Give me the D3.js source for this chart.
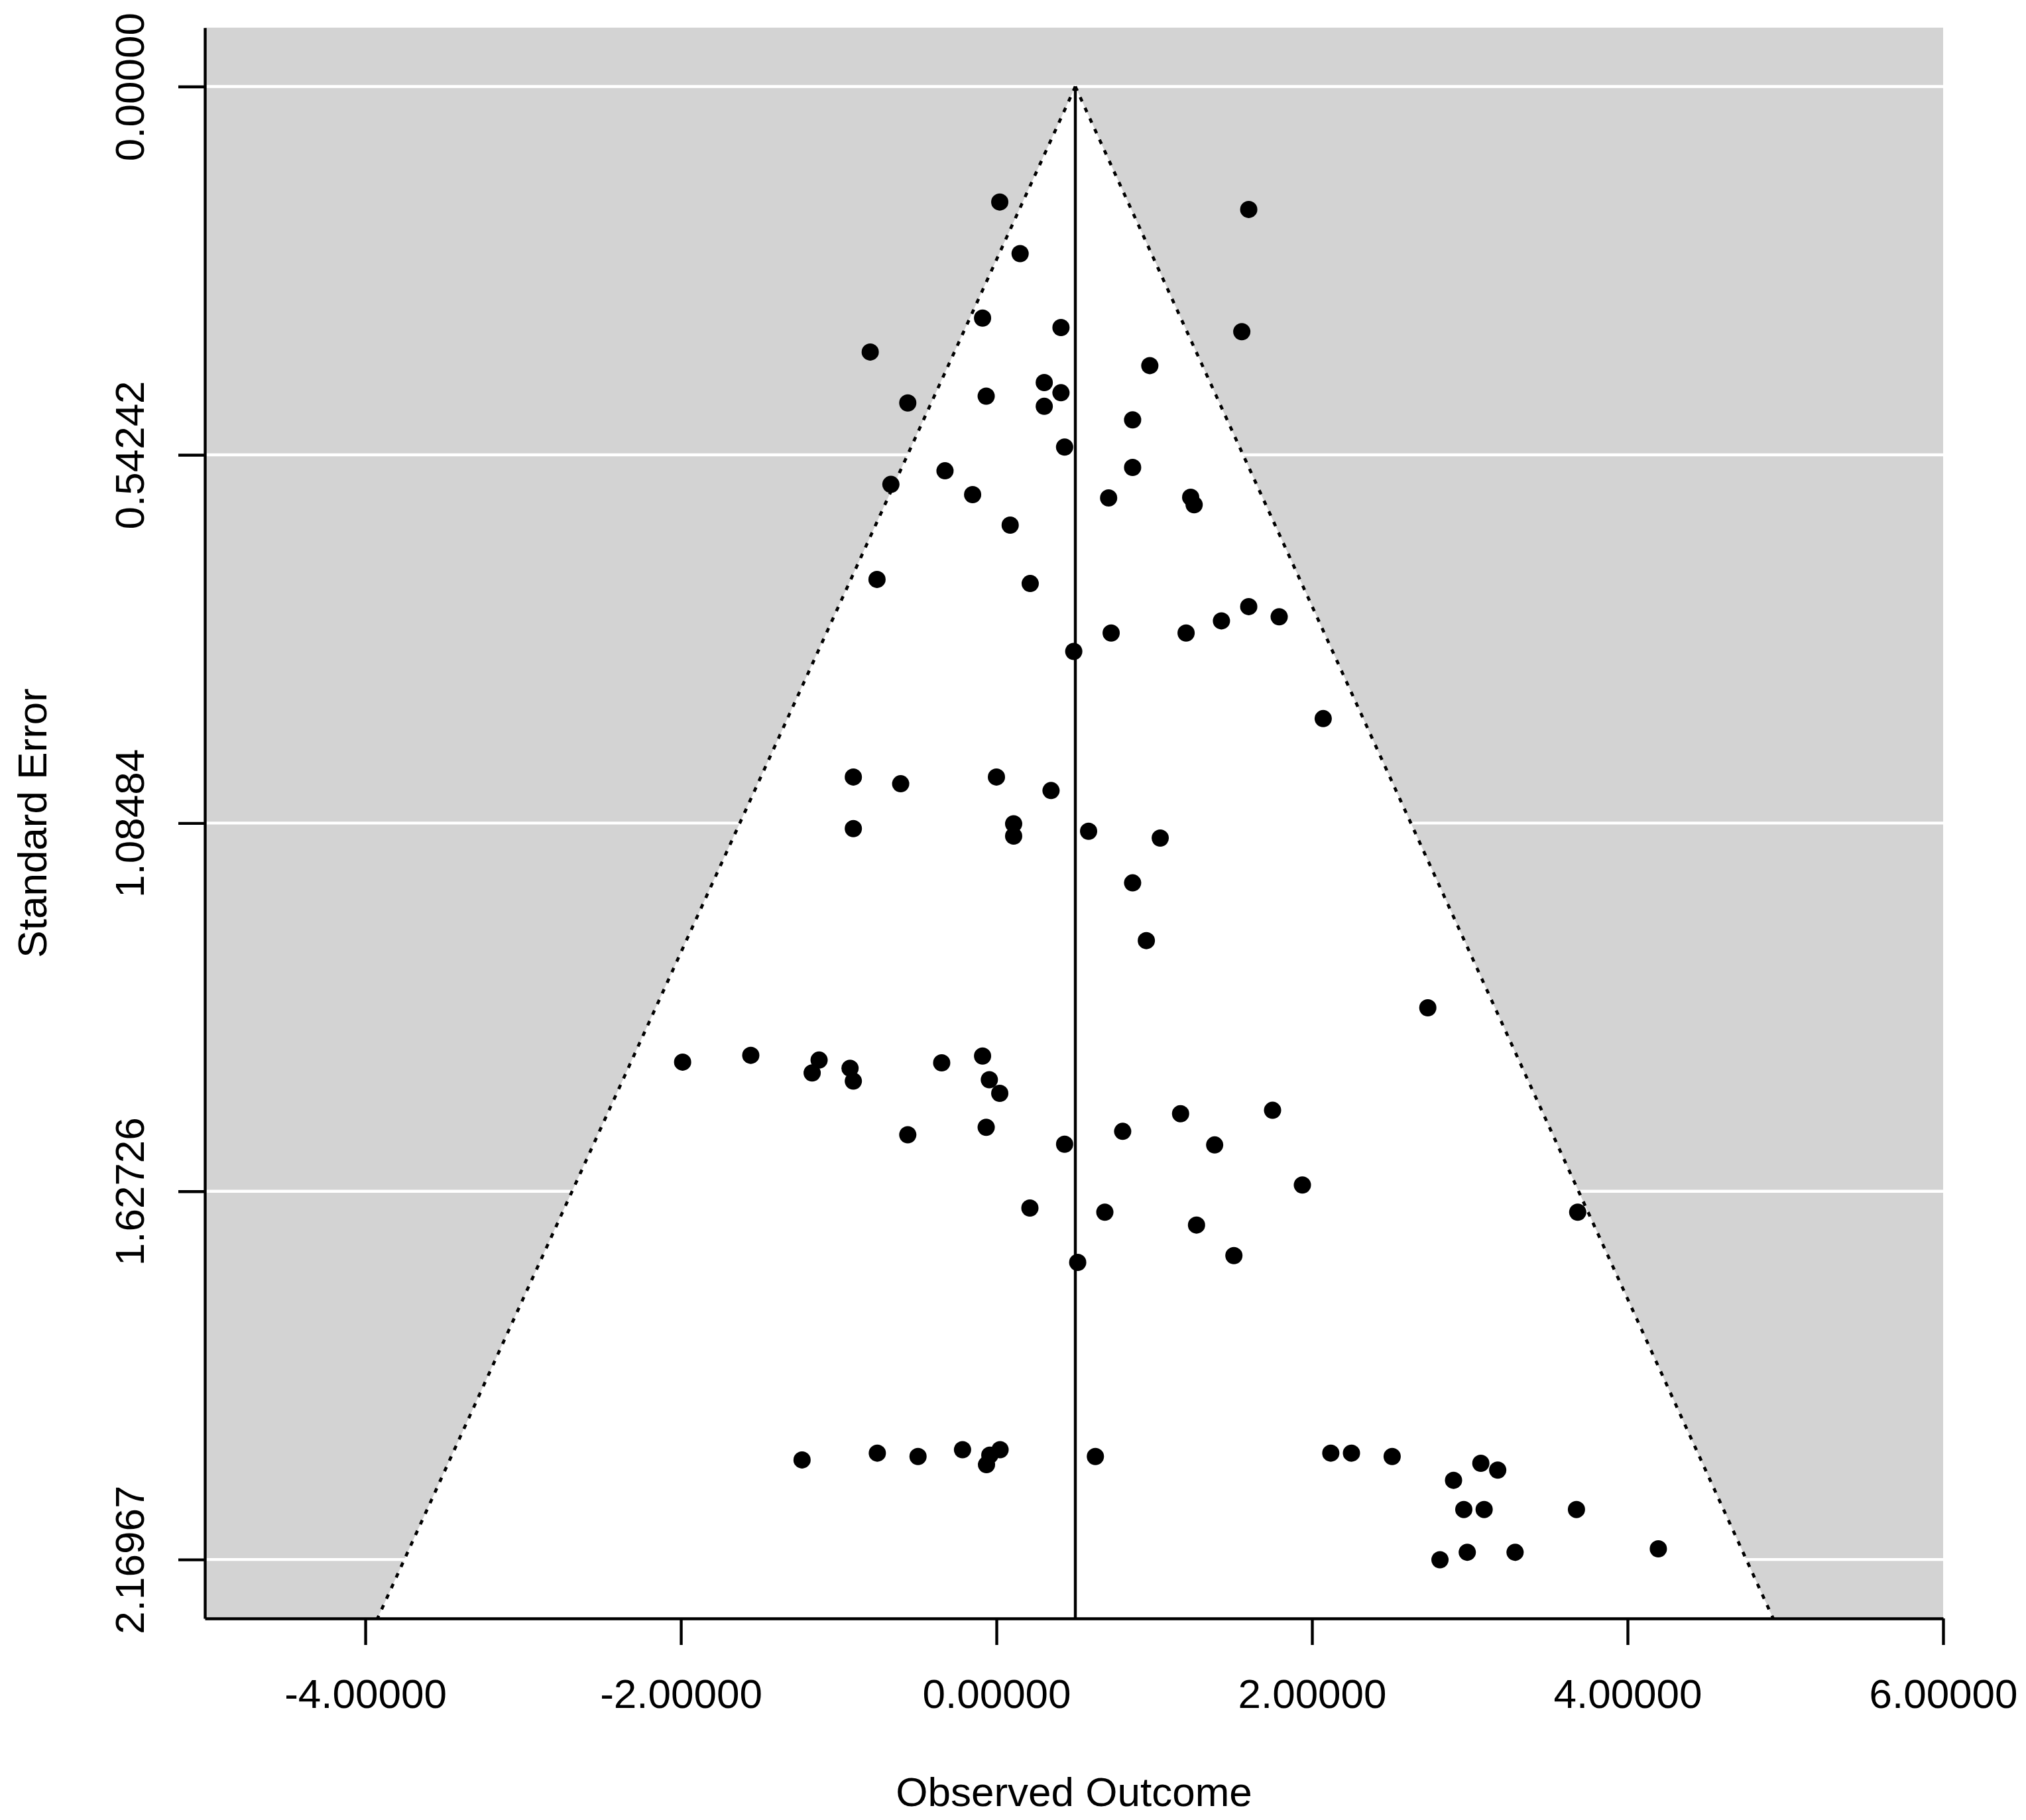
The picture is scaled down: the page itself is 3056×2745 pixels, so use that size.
<!DOCTYPE html>
<html>
<head>
<meta charset="utf-8">
<script src="https://cdn.jsdelivr.net/npm/d3@7/dist/d3.min.js"></script>
<style>
  body { margin: 0; background: #fff; }
  text { font-family: "Liberation Sans", Arial, sans-serif; font-size: 62px; fill: #000; }
</style>
</head>
<body>
<svg id="chart"></svg>
<script>
// funnel plot - observed outcome vs standard error

// study level values
const outcome = [
    0.021, 1.599, 0.150, -0.088, 0.409, 1.555, -0.800, 0.972, 0.303, 0.409,
    -0.065, -0.562, 0.303, 0.863, 0.432, 0.863, -0.326, -0.669, -0.151, 0.711,
    1.231, 1.253, 0.087, -0.757, 0.214, 1.599, 1.792, 1.426, 0.727, 1.202,
    0.490, 2.071, -0.907, 0.000, -0.607, 0.346, 0.109, 0.109, -0.907, 0.584,
    1.038, 0.863, 0.950, 2.734, -1.989, -1.557, -1.124, -1.168, -0.928, -0.907,
    -0.347, -0.088, -0.045, 0.021, 1.750, 1.167, -0.065, 0.800, -0.562, 0.432,
    1.383, 1.939, 0.212, 0.687, 3.684, 1.268, 1.505, 0.515, -1.232, -0.755,
    -0.497, -0.215, -0.063, -0.042, 0.023, 0.627, 2.119, 2.250, 2.508, 3.070,
    3.177, 2.897, 2.962, 3.091, 3.676, 2.811, 2.984, 3.287, 4.195
];
const stdError = [
    0.170, 0.181, 0.246, 0.341, 0.355, 0.361, 0.391, 0.411, 0.436, 0.451,
    0.456, 0.466, 0.471, 0.491, 0.531, 0.561, 0.566, 0.586, 0.601, 0.606,
    0.605, 0.616, 0.646, 0.726, 0.732, 0.766, 0.781, 0.787, 0.805, 0.805,
    0.832, 0.931, 1.017, 1.017, 1.027, 1.037, 1.086, 1.104, 1.093, 1.097,
    1.107, 1.173, 1.258, 1.357, 1.437, 1.427, 1.434, 1.453, 1.446, 1.465,
    1.438, 1.428, 1.463, 1.483, 1.508, 1.513, 1.533, 1.539, 1.544, 1.558,
    1.559, 1.618, 1.652, 1.658, 1.658, 1.677, 1.722, 1.732, 2.023, 2.013,
    2.018, 2.008, 2.030, 2.016, 2.008, 2.018, 2.013, 2.013, 2.018, 2.028,
    2.038, 2.053, 2.096, 2.096, 2.096, 2.170, 2.159, 2.159, 2.154
];

// pooled estimate (centre of the funnel)
const pooledEstimate = 0.5;

// axis ticks
const xTicks = [-4, -2, 0, 2, 4, 6];
const xTickLabels = ["-4.00000", "-2.00000", "0.00000", "2.00000", "4.00000", "6.00000"];
const yTicks = [0, 0.54242, 1.08484, 1.62726, 2.16967];
const yTickLabels = ["0.00000", "0.54242", "1.08484", "1.62726", "2.16967"];

const width = 3056;
const height = 2745;
const plot = { left: 309, right: 2931, top: 41.7, bottom: 2441 };
const lineW = 4.4;

const svg = d3.select("#chart")
    .attr("width", width)
    .attr("height", height);

const x = d3.scaleLinear()
    .domain([-5.017, 6.0])
    .range([plot.left, plot.right]);

// y is reversed: se 0 at the top
const y = d3.scaleLinear()
    .domain([-0.0868, 2.2565])
    .range([plot.top, plot.bottom]);

const seMax = y.domain()[1];

// gray background of the plotting region
svg.append("rect")
    .attr("x", plot.left)
    .attr("y", plot.top)
    .attr("width", plot.right - plot.left)
    .attr("height", plot.bottom - plot.top)
    .style("fill", "#d3d3d3");

// white horizontal reference lines at the y ticks
svg.selectAll(".grid-line")
    .data(yTicks)
    .enter()
    .append("line")
    .attr("class", "grid-line")
    .attr("x1", plot.left)
    .attr("x2", plot.right)
    .attr("y1", d => y(d))
    .attr("y2", d => y(d))
    .style("stroke", "#fff")
    .style("stroke-width", lineW);

// pseudo confidence region (white triangle)
const funnel = [
    [pooledEstimate, 0],
    [pooledEstimate - 1.96 * seMax, seMax],
    [pooledEstimate + 1.96 * seMax, seMax]
];
svg.append("polygon")
    .attr("points", funnel.map(p => `${x(p[0])},${y(p[1])}`).join(" "))
    .style("fill", "#fff");

// dotted funnel edges
[-1, 1].forEach(side => {
    svg.append("line")
        .attr("x1", x(pooledEstimate))
        .attr("y1", y(0))
        .attr("x2", x(pooledEstimate + side * 1.96 * seMax))
        .attr("y2", y(seMax))
        .style("stroke", "#000")
        .style("stroke-width", 4.6)
        .style("stroke-dasharray", "7 10.6");
});

// vertical line at the estimate
svg.append("line")
    .attr("x1", x(pooledEstimate))
    .attr("x2", x(pooledEstimate))
    .attr("y1", y(0))
    .attr("y2", y(seMax))
    .style("stroke", "#000")
    .style("stroke-width", lineW);

// studies
const points = outcome.map((v, i) => ({ est: v, se: stdError[i] }));
svg.selectAll(".study")
    .data(points)
    .enter()
    .append("circle")
    .attr("class", "study")
    .attr("cx", d => x(d.est))
    .attr("cy", d => y(d.se))
    .attr("r", 13)
    .style("fill", "#000");

// bottom axis
const xAxis = svg.append("g")
    .attr("transform", `translate(0,${plot.bottom})`)
    .call(d3.axisBottom(x)
        .tickValues(xTicks)
        .tickFormat((d, i) => xTickLabels[i])
        .tickSize(40)
        .tickSizeOuter(0));
xAxis.select(".domain").style("stroke-width", lineW);
xAxis.selectAll(".tick line").style("stroke-width", lineW);
xAxis.selectAll(".tick text")
    .attr("y", 135)
    .attr("dy", 0)
    .style("font-size", "62px");

// left axis, labels rotated
const yAxis = svg.append("g")
    .attr("transform", `translate(${plot.left},0)`)
    .call(d3.axisLeft(y)
        .tickValues(yTicks)
        .tickFormat((d, i) => yTickLabels[i])
        .tickSize(40)
        .tickSizeOuter(0));
yAxis.select(".domain").style("stroke-width", lineW);
yAxis.selectAll(".tick line").style("stroke-width", lineW);
yAxis.selectAll(".tick text")
    .attr("x", 0)
    .attr("dy", 0)
    .attr("text-anchor", "middle")
    .attr("transform", "translate(-92,0) rotate(-90)")
    .style("font-size", "62px");

// remove d3's default axis font so the css applies
xAxis.attr("font-family", null).attr("font-size", null);
yAxis.attr("font-family", null).attr("font-size", null);

// axis titles
svg.append("text")
    .attr("x", (plot.left + plot.right) / 2)
    .attr("y", 2724)
    .attr("text-anchor", "middle")
    .text("Observed Outcome");

svg.append("text")
    .attr("transform", `translate(70,${(plot.top + plot.bottom) / 2}) rotate(-90)`)
    .attr("text-anchor", "middle")
    .text("Standard Error");
</script>
</body>
</html>
